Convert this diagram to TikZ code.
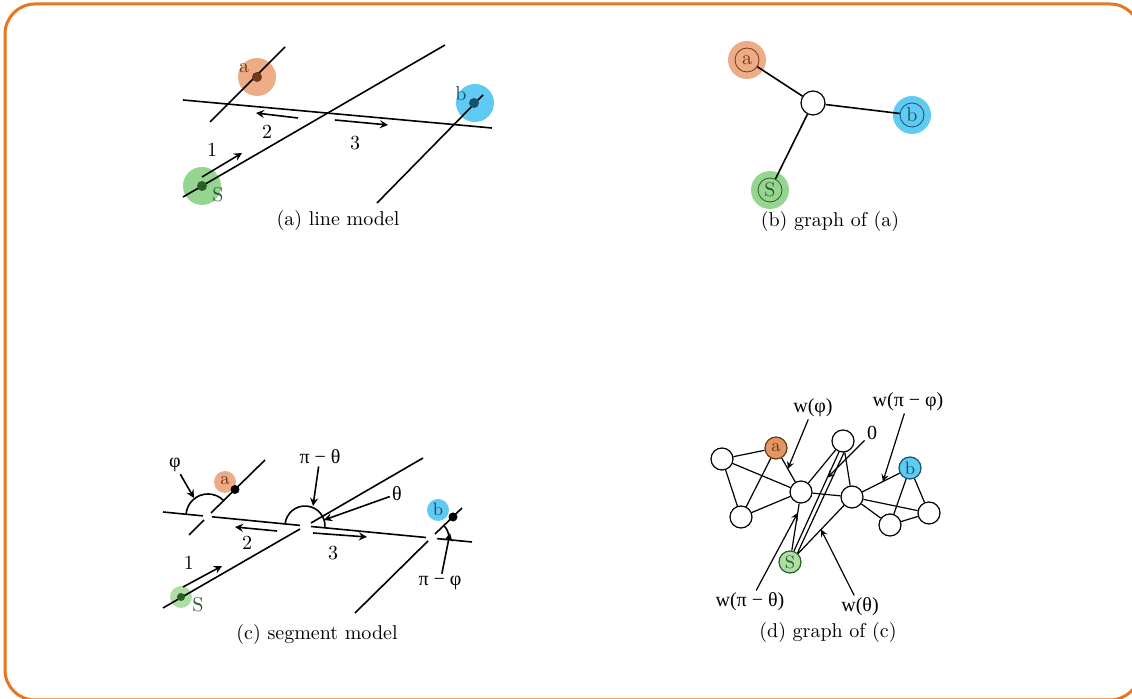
\documentclass[tikz,border=0pt]{standalone}
\usepackage{fontspec}
\newfontfamily\grk{Liberation Serif}
\definecolor{frameorange}{RGB}{232,118,30}
\definecolor{aorange}{RGB}{238,172,134}
\definecolor{dorange}{RGB}{226,150,100}
\definecolor{adark}{RGB}{110,58,25}
\definecolor{bblue}{RGB}{95,202,242}
\definecolor{bdark}{RGB}{25,80,110}
\definecolor{sgreen}{RGB}{150,212,145}
\definecolor{lgreen}{RGB}{175,222,165}
\definecolor{sdark}{RGB}{40,95,40}
\tikzset{
  vtx/.style={circle, draw, semithick, fill=white, minimum size=11pt, inner sep=0pt, font=\small},
  ring/.style={circle, draw, minimum size=12pt, inner sep=0pt},
  lab/.style={inner sep=1pt, font=\grk},
}

\begin{document}
\begin{tikzpicture}[x=0.5pt,y=0.5pt,yscale=-1]
\useasboundingbox (0,0) rectangle (1132,699);
\draw[frameorange, line width=1.5pt, rounded corners=15pt] (5,4) rectangle (1140,700);

% (a)
\fill[aorange] (257,77) circle (19);
\fill[bblue] (475,103) circle (19);
\fill[sgreen] (202,186) circle (19);
\draw[thick] (285,47) -- (210,122);
\draw[thick] (183,100) -- (492,128);
\draw[thick] (183,197) -- (445,45);
\draw[thick] (377,203) -- (483,95);
\draw[thick, -stealth] (202,177) -- (242,153);
\draw[thick, -stealth] (298,118) -- (256,113);
\draw[thick, -stealth] (335,120) -- (388,125);
\fill[adark] (257,77) circle (5);
\fill[bdark] (474,103) circle (5);
\fill[sdark] (202,186) circle (5);
\node[text=adark] (la) at (244,68) {a};
\node[text=bdark] (lb) at (461,94) {b};
\node[text=sdark] (ls) at (218,195) {S};
\node (l1) at (212,150) {1};
\node (l2) at (267,132) {2};
\node (l3) at (355,143) {3};
\node (capa) at (338,221) {(a) line model};

% (b)
\fill[aorange] (747,60) circle (19);
\fill[bblue] (912,115) circle (19);
\fill[sgreen] (770,190) circle (19);
\node[vtx, minimum size=12pt] (hub) at (813,103) {};
\node[ring, draw=adark, text=adark] (ga) at (747,60) {a};
\node[ring, draw=bdark, text=bdark] (gb) at (912,115) {b};
\node[ring, draw=sdark, text=sdark] (gs) at (770,190) {S};
\draw[thick] (ga) -- (hub);
\draw[thick] (hub) -- (gb);
\draw[thick] (hub) -- (gs);
\node (capb) at (830,222) {(b) graph of (a)};

% (c)
\fill[aorange] (225,482) circle (11);
\fill[bblue] (438,510) circle (11);
\fill[lgreen] (181,597) circle (11);
\draw[thick] (163,512) -- (203,515.9);
\draw[thick] (212,516.8) -- (300,525.4);
\draw[thick] (311,526.5) -- (426,537.5);
\draw[thick] (437,538.6) -- (472,542);
\draw[thick] (265,460) -- (211,513);
\draw[thick] (204,520) -- (189,535);
\draw[thick] (163,608) -- (300,529);
\draw[thick] (311,523) -- (423,458);
\draw[thick] (462,508) -- (435,534);
\draw[thick] (428,541) -- (355,613);
\draw[thick] (223.8,500.7) arc[start angle=-44, end angle=-174.5, radius=22];
\draw[thick] (324.9,527.9) arc[start angle=5.5, end angle=-174.5, radius=20];
\draw[thick] (443.9,525.5) arc[start angle=-44, end angle=5.5, radius=18];
\draw[thick, -stealth] (183,587) -- (222,566);
\draw[thick, -stealth] (277,531) -- (235,527);
\draw[thick, -stealth] (313,533) -- (367,537);
\fill (235,489.5) circle (4.5);
\fill (453,517) circle (4.5);
\fill[sdark] (181,597) circle (4);
\node[text=adark, font=\small] (sa) at (225,481) {a};
\node[text=bdark, font=\small] (sb) at (438,509) {b};
\node[text=sdark] (ss) at (198,605) {S};
\node (s1) at (189,563) {1};
\node (s2) at (247,543) {2};
\node (s3) at (333,553) {3};
\node[lab] (lphi) at (175,465) {φ};
\node[lab] (lpth) at (320,457) {π − θ};
\node[lab] (lth) at (397,494) {θ};
\node[lab] (lpphi) at (440,583) {π − φ};
\coordinate (tphi) at (194,498);
\coordinate (tpth) at (313,506);
\coordinate (tth) at (324,520);
\coordinate (tpphi) at (450,533);
\draw[thick, -stealth] (lphi) -- (tphi);
\draw[thick, -stealth] (lpth) -- (tpth);
\draw[thick, -stealth] (lth) -- (tth);
\draw[thick, -stealth] (lpphi) -- (tpphi);
\node (capc) at (317,635) {(c) segment model};

% (d)
\node[vtx] (n1) at (722,459) {};
\node[vtx, fill=dorange, draw=adark, text=adark] (da) at (776,448) {a};
\node[vtx] (n2) at (741,517) {};
\node[vtx] (n3) at (801,492) {};
\node[vtx] (n4) at (843,441) {};
\node[vtx] (n5) at (852,497) {};
\node[vtx, fill=bblue, draw=bdark, text=bdark] (db) at (910,468) {b};
\node[vtx] (n6) at (890,525) {};
\node[vtx] (n7) at (929,513) {};
\node[vtx, fill=lgreen, draw=sdark, text=sdark] (ds) at (790,562) {S};
\draw[semithick] (n1) -- (da);
\draw[semithick] (n1) -- (n2);
\draw[semithick] (n1) -- (n3);
\draw[semithick] (da) -- (n2);
\draw[semithick] (da) -- (n3);
\draw[semithick] (n2) -- (n3);
\draw[semithick] (n3) -- (n4);
\draw[semithick] (n3) -- (n5);
\draw[semithick] (n4) -- (n5);
\draw[semithick] (n5) -- (db);
\draw[semithick] (n5) -- (n6);
\draw[semithick] (n5) -- (n7);
\draw[semithick] (db) -- (n6);
\draw[semithick] (db) -- (n7);
\draw[semithick] (n6) -- (n7);
\draw[semithick] (ds) -- (n3);
\draw[semithick] (ds.70) -- (n4.250);
\draw[semithick] (ds.50) -- (n4.275);
\draw[semithick] (ds) -- (n5);
\path (da) -- (n3) coordinate[pos=0.45] (ephi);
\path (n5) -- (db) coordinate[pos=0.55] (epphi);
\path (ds.70) -- (n4.250) coordinate[pos=0.74] (ezero);
\path (ds) -- (n3) coordinate[pos=0.8] (epth);
\path (ds) -- (n5) coordinate[pos=0.5] (eth);
\node[lab] (wphi) at (813,408) {w(φ)};
\node[lab] (wpphi) at (908,402) {w(π − φ)};
\node[lab] (wzero) at (872,433) {0};
\node[lab] (wpth) at (750,602) {w(π − θ)};
\node[lab] (wth) at (860,607) {w(θ)};
\draw[semithick, -stealth] (wphi) -- (ephi);
\draw[semithick, -stealth] (wpphi) -- (epphi);
\draw[semithick, -stealth] (wzero) -- (ezero);
\draw[semithick, -stealth] (wpth) -- (epth);
\draw[semithick, -stealth] (wth) -- (eth);
\node (capd) at (828,633) {(d) graph of (c)};
\end{tikzpicture}
\end{document}
